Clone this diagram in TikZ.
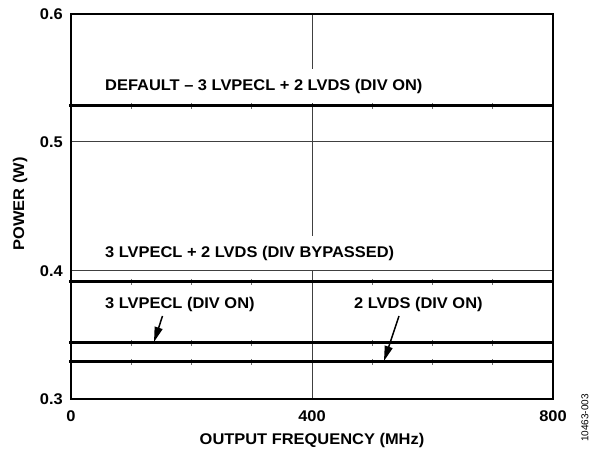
\documentclass[tikz,border=0pt]{standalone}
\usepackage{fontspec}
\setmainfont[FakeStretch=1.06]{Liberation Sans}
\newfontfamily\plainsans{Liberation Sans}
\usetikzlibrary{arrows.meta}
\tikzset{
  lbl/.style={font=\fontsize{15.5}{18}\selectfont\bfseries, inner sep=0pt},
  curvelbl/.style={lbl, anchor=west},
  maskedlbl/.style={curvelbl, fill=white, minimum height=34pt, inner xsep=2pt},
  gridln/.style={line width=1pt, draw={black!75}},
  dataln/.style={line width=3pt},
  frameln/.style={line width=2pt},
  tickln/.style={line width=0.8pt, draw={black!55}},
  pointer/.style={line width=1.5pt, -{Triangle[length=15pt,width=8pt]}},
}
\begin{document}
\begin{tikzpicture}[x=1pt,y=-1pt]
\useasboundingbox (0,0) rectangle (590,454);
% grid
\draw[gridln] (312,14) -- (312,399);
\draw[gridln] (71,142) -- (553,142);
\draw[gridln] (71,271) -- (553,271);
% masked labels
\node[maskedlbl] (deflbl) at (103,86) {DEFAULT -- 3 LVPECL + 2 LVDS (DIV ON)};
\node[maskedlbl] (byplbl) at (103,253) {3 LVPECL + 2 LVDS (DIV BYPASSED)};
\node[curvelbl] (pecllbl) at (105,304) {3 LVPECL (DIV ON)};
\node[curvelbl] (lvdslbl) at (354,304) {2 LVDS (DIV ON)};
% small ticks on data lines
\foreach \yy in {106,282,343,362}{
  \foreach \xx in {131.5,191.5,251.5,372.5,432.5,492.5}{
    \draw[tickln] (\xx,\yy-3) -- (\xx,\yy+3);
  }
}
% data lines
\draw[dataln] (69,106) -- (553,106);
\draw[dataln] (69,282) -- (553,282);
\draw[dataln] (69,343) -- (553,343);
\draw[dataln] (69,362) -- (553,362);
% frame
\draw[frameln] (71,14) rectangle (553,399);
% pointers
\coordinate (a1s) at (162.5,316);
\coordinate (a1e) at (154,342);
\coordinate (a2s) at (399,316);
\coordinate (a2e) at (384,361);
\draw[pointer] (a1s) -- (a1e);
\draw[pointer] (a2s) -- (a2e);
% axis tick labels
\node[lbl, anchor=east] (y6) at (63,14) {0.6};
\node[lbl, anchor=east] (y5) at (63,142) {0.5};
\node[lbl, anchor=east] (y4) at (63,271) {0.4};
\node[lbl, anchor=east] (y3) at (63,399) {0.3};
\node[lbl] (x0) at (71,416) {0};
\node[lbl] (x4) at (312,416) {400};
\node[lbl] (x8) at (553,416) {800};
% axis titles
\node[lbl] (xt) at (312,440) {OUTPUT FREQUENCY (MHz)};
\node[lbl, rotate=90] (yt) at (20,204) {POWER (W)};
\node[font=\plainsans\fontsize{10}{12}\selectfont, inner sep=0pt, rotate=90] (fig) at (585,418) {10463-003};
\end{tikzpicture}
\end{document}
